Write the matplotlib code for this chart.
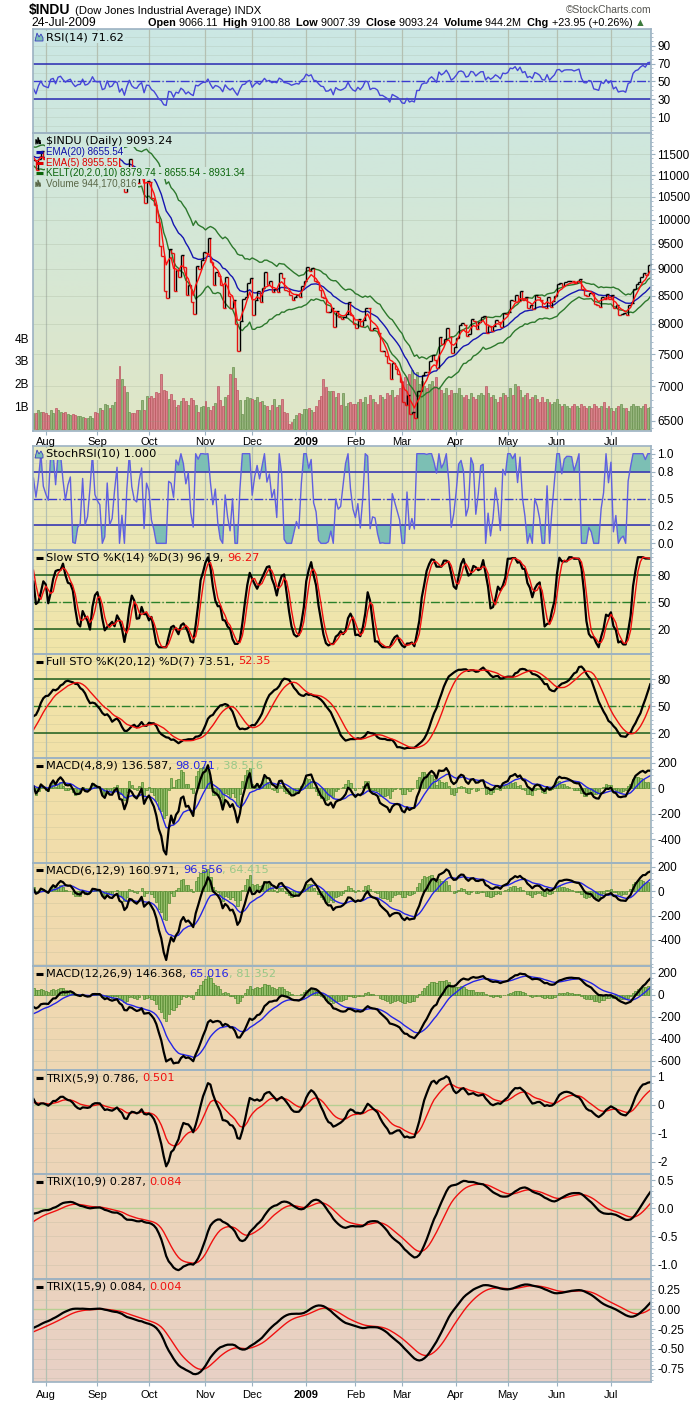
import numpy as np
import pandas as pd
import matplotlib
matplotlib.use("Agg")
import matplotlib.pyplot as plt
from matplotlib.colors import to_rgb
from matplotlib.ticker import FixedLocator, NullFormatter, MultipleLocator

plt.rcParams['font.family'] = ['DejaVu Sans']
plt.rcParams['axes.unicode_minus'] = False

# $INDU daily closes (June / July 2008 only feed the indicator warm-up)
close_2008_06 = [12503, 12391, 12404, 12604, 12210, 12280, 12289, 12084, 12141, 12307, 12269,
                 12160, 12029, 12063, 11843, 11842, 11807, 11811, 11453, 11347, 11350]
close_2008_07 = [11382, 11215, 11288, 11231, 11385, 11147, 11229, 11100, 11055, 10963, 11239,
                 11446, 11496, 11467, 11602, 11632, 11350, 11371, 11132, 11397, 11584, 11378]
close_2008_08 = [11326, 11284, 11616, 11656, 11432, 11734, 11782, 11643, 11533, 11616, 11660,
                 11479, 11349, 11417, 11431, 11628, 11387, 11413, 11502, 11715, 11544]
close_2008_09 = [11517, 11533, 11188, 11220, 11511, 11231, 11268, 11434, 11422, 10918, 11059,
                 10610, 11020, 11388, 11016, 10855, 10825, 11023, 11143, 10365, 10851]
close_2008_10 = [10831, 10483, 10325, 9955, 9447, 9258, 8579, 8451, 9388, 9311, 8578, 8979,
                 8852, 9266, 9034, 8519, 8691, 8379, 8176, 9065, 8991, 9181, 9325]
close_2008_11 = [9319, 9625, 9139, 8696, 8943, 8871, 8694, 8283, 8836, 8497, 8273, 8425,
                 7997, 7552, 8046, 8443, 8479, 8727, 8829]
close_2008_12 = [8149, 8419, 8591, 8376, 8635, 8934, 8691, 8761, 8565, 8629, 8564, 8924,
                 8824, 8604, 8579, 8519, 8419, 8468, 8515, 8483, 8668, 8776]
close_2009_01 = [9034, 8952, 9015, 8769, 8742, 8599, 8474, 8448, 8201, 8212, 8281, 7950,
                 8229, 8123, 8078, 8117, 8175, 8376, 8150, 8001]
close_2009_02 = [7936, 8078, 7957, 8063, 8281, 8270, 7889, 7939, 7933, 7850, 7553, 7556,
                 7466, 7366, 7115, 7351, 7270, 7182, 7063]
close_2009_03 = [6763, 6726, 6876, 6594, 6627, 6547, 6926, 6930, 7170, 7224, 7217, 7396,
                 7487, 7400, 7279, 7776, 7660, 7750, 7925, 7776, 7522, 7609]
close_2009_04 = [7762, 7978, 8018, 7975, 7789, 7837, 8083, 8058, 7920, 8029, 8126, 8131,
                 7842, 7969, 7887, 7957, 8076, 8025, 7945, 8185, 8168]
close_2009_05 = [8212, 8427, 8410, 8512, 8409, 8575, 8418, 8469, 8285, 8331, 8268, 8504,
                 8475, 8423, 8293, 8277, 8473, 8300, 8404, 8500]
close_2009_06 = [8721, 8740, 8675, 8750, 8764, 8764, 8763, 8740, 8770, 8799, 8613, 8504,
                 8497, 8555, 8539, 8340, 8323, 8299, 8472, 8439, 8529, 8447]
close_2009_07 = [8504, 8280, 8324, 8163, 8178, 8184, 8147, 8332, 8360, 8616, 8711, 8743,
                 8848, 8916, 8882, 9070, 9093.24]
holidays = ["2008-07-04", "2008-09-01", "2008-11-27", "2008-12-25", "2009-01-01",
            "2009-01-19", "2009-02-16", "2009-04-10", "2009-05-25", "2009-07-03"]
first_shown = "2008-07-25"

# volume in billions, one value per shown day (25-Jul-2008 .. 24-Jul-2009)
volume_bn = [0.70,
    0.69, 0.81, 0.76, 0.76, 0.69, 0.62, 0.81, 0.68, 0.93, 0.81,
    0.75, 0.68, 0.72, 0.66, 0.62, 0.63, 0.62, 0.56, 0.56, 0.54,
    0.48, 0.48, 0.56, 0.48, 0.72, 0.69, 0.90, 0.81, 1.09, 1.04,
    0.93, 1.07, 1.18, 2.19, 2.77, 2.19, 1.89, 1.63, 0.72, 0.69,
    0.69, 0.85, 0.85, 1.25, 0.85, 1.43, 1.37, 1.43, 1.37, 1.63,
    1.59, 2.40, 1.72, 1.69, 1.31, 1.52, 1.28, 0.97, 1.07, 1.21,
    1.37, 1.21, 1.04, 1.37, 1.27, 1.07, 0.72, 0.97, 1.01, 1.21,
    0.97, 0.81, 1.01, 1.15, 1.89, 1.25, 0.99, 1.40, 1.50, 2.40,
    2.73, 2.25, 1.72, 1.27, 0.66, 1.28, 1.40, 1.37, 1.31, 1.28,
    1.40, 1.18, 1.22, 1.04, 1.01, 0.81, 1.04, 1.31, 0.97, 1.04,
    1.31, 0.75, 0.68, 0.20, 0.29, 0.45, 0.60, 0.69, 0.66, 0.87,
    0.87, 0.93, 0.81, 0.72, 0.99, 1.25, 1.46, 2.19, 1.86, 1.66,
    1.66, 1.66, 1.41, 1.59, 1.07, 1.59, 0.99, 1.16,
    1.2, 1.1,
    1.1, 1.2, 1.3, 1.2, 1.4, 1.1, 1.5, 1.3, 1.2, 1.1, 1.5, 1.4, 1.3, 1.6, 1.5, 1.7, 1.4, 1.5, 1.8,
    2.1, 2.3, 2.0, 2.4, 2.6, 2.2, 2.5, 2.0, 2.1, 1.9, 1.8, 2.0, 2.1, 1.9, 2.3, 1.8, 1.7, 1.6,
    1.8, 1.5, 1.7, 1.6,
    1.6, 1.8, 1.5, 1.4, 1.5, 1.3, 1.6, 1.4, 1.3, 1.5, 1.6, 1.5, 1.9, 1.6, 1.4, 1.5, 1.3, 1.2,
    1.4, 1.6, 1.5,
    1.4, 1.8, 1.5, 2.0, 1.9, 1.7, 1.4, 1.5, 1.6, 1.3, 1.4, 1.5, 1.3, 1.2, 1.4, 1.2, 1.3, 1.2,
    1.1, 1.2,
    1.3, 1.1, 1.0, 1.1, 1.0, 0.9, 1.0, 1.1, 1.0, 0.9, 1.1, 1.0, 0.9, 1.0, 0.9, 1.1, 1.0, 0.9,
    1.0, 1.2, 0.9, 1.0,
    0.9, 0.8, 0.9, 1.0, 1.1, 0.9, 0.9, 0.8, 1.0, 1.1, 1.0, 1.0, 0.9, 1.0, 1.1, 0.9, 0.94]

month_labels = ["Aug", "Sep", "Oct", "Nov", "Dec", "2009", "Feb", "Mar", "Apr", "May", "Jun", "Jul"]

# texts as printed on the chart
title_sym = "$INDU"
title_name = "(Dow Jones Industrial Average) INDX"
quote_date = "24-Jul-2009"
quote_fields = [("Open", "9066.11"), ("High", "9100.88"), ("Low", "9007.39"),
                ("Close", "9093.24"), ("Volume", "944.2M"), ("Chg", "+23.95 (+0.26%)")]
price_legend = [("$INDU (Daily) 9093.24", "black"), ("EMA(20) 8655.54", "#1010a8"),
                ("EMA(5) 8955.55", "#e00000"),
                ("KELT(20,2.0,10) 8379.74 - 8655.54 - 8931.34", "#0a640a"),
                ("Volume 944,170,816", "#5a6848")]
rsi_label = "RSI(14) 71.62"
srsi_label = "StochRSI(10) 1.000"
slow_label = ("Slow STO %K(14) %D(3) 96.19, ", "96.27")
full_label = ("Full STO %K(20,12) %D(7) 73.51, ", "52.35")
macd_labels = [("MACD(4,8,9) 136.587, ", "98.071", ", 38.516"),
               ("MACD(6,12,9) 160.971, ", "96.556", ", 64.415"),
               ("MACD(12,26,9) 146.368, ", "65.016", ", 81.352")]
trix_labels = [("TRIX(5,9) 0.786, ", "0.501"), ("TRIX(10,9) 0.287, ", "0.084"),
               ("TRIX(15,9) 0.084, ", "0.004")]

# ---------------- indicators ----------------
closes = np.array(close_2008_06 + close_2008_07 + close_2008_08 + close_2008_09 + close_2008_10
                  + close_2008_11 + close_2008_12 + close_2009_01 + close_2009_02 + close_2009_03
                  + close_2009_04 + close_2009_05 + close_2009_06 + close_2009_07, dtype=float)
dates = pd.bdate_range("2008-06-02", "2009-07-24")
dates = dates[~dates.isin(pd.to_datetime(holidays))]
c = pd.Series(closes, index=dates)


def ema(s, n):
    return s.ewm(span=n, adjust=False).mean()


d = c.diff()
rsi = 100 - 100 / (1 + d.clip(lower=0).ewm(alpha=1 / 14, adjust=False).mean()
                   / (-d.clip(upper=0)).ewm(alpha=1 / 14, adjust=False).mean())
srsi = (rsi - rsi.rolling(10).min()) / (rsi.rolling(10).max() - rsi.rolling(10).min())


def fast_k(n):
    lo, hi = c.rolling(n).min(), c.rolling(n).max()
    return 100 * (c - lo) / (hi - lo)


slow_k = fast_k(14).rolling(3).mean()
slow_d = slow_k.rolling(3).mean()
full_k = fast_k(20).rolling(12).mean()
full_d = full_k.rolling(7).mean()

ema20, ema5 = ema(c, 20), ema(c, 5)
atr = d.abs().ewm(alpha=1 / 10, adjust=False).mean()
kelt_up, kelt_lo = ema20 + 2 * atr, ema20 - 2 * atr

macds = []
for f, s in [(4, 8), (6, 12), (12, 26)]:
    m = ema(c, f) - ema(c, s)
    sg = ema(m, 9)
    macds.append((m, sg, m - sg))

trixs = []
for n in [5, 10, 15]:
    t = ema(ema(ema(c, n), n), n).pct_change() * 100
    trixs.append((t, ema(t, 9)))

vis = dates >= pd.Timestamp(first_shown)
vd = dates[vis]
x = np.arange(len(vd))
cv = c[vis].values
prev = c.shift(1)[vis].values
up = cv >= prev
vol = np.array(volume_bn)
month_idx = [i for i in range(1, len(vd)) if vd[i].month != vd[i - 1].month]

# ---------------- layout ----------------
W, H = 700, 1403
X0, X1 = 33, 651
fig = plt.figure(figsize=(W / 100, H / 100), dpi=100)

bg_px = [29, 133, 300, 431, 446, 550, 654, 760, 866, 970, 1070, 1175, 1280, 1382]
bg_col = ["#cbe7e4", "#cfe7de", "#d8e7d2", "#e0e6c6", "#e6e8c0", "#ece7b4", "#f1e5a8",
          "#f2e1a8", "#f1ddac", "#f0d9b0", "#eed7b4", "#edd5b9", "#ebd3be", "#e8d0c6"]
bg_rgb = np.array([to_rgb(h) for h in bg_col])


def bg_at(py):
    return tuple(np.interp(py, bg_px, bg_rgb[:, k]) for k in range(3))


def px_axes(top, bottom, z=1):
    return fig.add_axes([X0 / W, 1 - bottom / H, (X1 - X0) / W, (bottom - top) / H], zorder=z)


for top, bottom in [(29, 431), (446, 1382)]:
    bg = px_axes(top, bottom, z=0)
    ys = np.linspace(top, bottom, 300)
    bg.imshow(np.array([bg_at(y) for y in ys])[:, None, :], aspect="auto", extent=[0, 1, 0, 1])
    bg.axis("off")

SPINE = "#9cb2c2"
GRID = "#b4c0b2"
ARIAL = ["Liberation Sans", "DejaVu Sans"]
TICKFONT = dict(family=ARIAL, size=8.5)


def style(ax, ylim, ticks, labels, minor, hgrid):
    ax.set_facecolor("none")
    ax.set_xlim(-0.2, len(x) - 0.7)
    ax.set_ylim(*ylim)
    for sp in ax.spines.values():
        sp.set_color(SPINE)
        sp.set_linewidth(1.2)
    ax.yaxis.tick_right()
    ax.set_yticks(ticks)
    ax.set_yticklabels(labels, **TICKFONT)
    ax.yaxis.set_minor_locator(MultipleLocator(minor))
    ax.tick_params(axis="y", which="major", length=3, width=0.8, color=SPINE, pad=1.5)
    ax.tick_params(axis="y", which="minor", length=1.5, width=0.6, color=SPINE)
    ax.set_xticks(month_idx)
    ax.set_xticklabels([])
    ax.tick_params(axis="x", length=0)
    for m in month_idx:
        ax.axvline(m, color=GRID, lw=0.9, zorder=0.5)
    for h in np.arange(ylim[0] - ylim[0] % hgrid, ylim[1], hgrid):
        ax.axhline(h, color="#8c9a80", lw=0.7, alpha=0.16, zorder=0.4)


# RSI
ax = px_axes(29, 133)
style(ax, (-8, 109), [10, 30, 50, 70, 90], ["10", "30", "50", "70", "90"], 5, 10)
ax.axhline(70, color="#2a2ab4", lw=1.1)
ax.axhline(30, color="#2a2ab4", lw=1.1)
ax.axhline(50, color="#3a3ad0", lw=1, ls="-.")
ax.plot(x, rsi[vis].values, color="#4646d8", lw=1)

# price + volume
axv = px_axes(133, 431)
axv.set_facecolor("none")
axv.set_xlim(-0.2, len(x) - 0.7)
axv.set_ylim(-0.1, 13.08)
for sp in axv.spines.values():
    sp.set_visible(False)
axv.set_yticks([1, 2, 3, 4])
axv.set_yticklabels(["1B", "2B", "3B", "4B"], **TICKFONT)
axv.tick_params(axis="y", length=0, pad=3)
axv.set_xticks([])
for m in month_idx:
    axv.axvline(m, color=GRID, lw=0.9, zorder=0.5)
axv.bar(x[up], vol[up], width=0.8, color="#95b57c", edgecolor="#6b9250", lw=0.5)
axv.bar(x[~up], vol[~up], width=0.8, color="#d9818a", edgecolor="#bb5560", lw=0.5)

ax = px_axes(133, 431, z=2)
ax.set_facecolor("none")
ax.set_yscale("log")
ax.set_xlim(-0.2, len(x) - 0.7)
ax.set_ylim(6362, 12037)
for sp in ax.spines.values():
    sp.set_color(SPINE)
    sp.set_linewidth(1.2)
ax.yaxis.tick_right()
pt = list(range(6500, 12000, 500))
ax.yaxis.set_major_locator(FixedLocator(pt))
ax.set_yticklabels([str(p) for p in pt], **TICKFONT)
ax.yaxis.set_minor_locator(FixedLocator(list(range(6400, 12100, 100))))
ax.yaxis.set_minor_formatter(NullFormatter())
ax.tick_params(axis="y", which="major", length=3, width=0.8, color=SPINE, pad=1.5)
ax.tick_params(axis="y", which="minor", length=1.5, width=0.6, color=SPINE)
for p in pt:
    ax.axhline(p, color="#8c9a80", lw=0.7, alpha=0.2, zorder=0.4)
ax.set_xticks(month_idx)
ax.set_xticklabels(month_labels, family=ARIAL, size=8)
ax.tick_params(axis="x", length=3, color=SPINE, pad=1.5)
ax.get_xticklabels()[5].set_fontweight("bold")
ax.plot(x, kelt_up[vis].values, color="#2c782c", lw=1)
ax.plot(x, kelt_lo[vis].values, color="#2c782c", lw=1)
ax.plot(x, ema20[vis].values, color="#1515b0", lw=1)
ax.vlines(x[up], np.minimum(prev, cv)[up], np.maximum(prev, cv)[up], color="black", lw=1)
ax.vlines(x[~up], np.minimum(prev, cv)[~up], np.maximum(prev, cv)[~up], color="#e41010", lw=1)
ax.plot(x[up], cv[up], ls="none", marker=1, ms=2, color="black")
ax.plot(x[~up], cv[~up], ls="none", marker=1, ms=2, color="#e41010")
ax.plot(x, ema5[vis].values, color="#ff1010", lw=1)

# StochRSI
ax = px_axes(446, 550)
style(ax, (-0.074, 1.086), [0, 0.2, 0.5, 0.8, 1.0], ["0.0", "0.2", "0.5", "0.8", "1.0"], 0.05, 0.1)
sr = srsi[vis].values
ax.fill_between(x, 0.8, sr, where=sr > 0.8, interpolate=True, color="#7cbfb4", lw=0)
ax.fill_between(x, 0.2, sr, where=sr < 0.2, interpolate=True, color="#7cbfb4", lw=0)
ax.axhline(0.8, color="#2a2ab4", lw=1.1)
ax.axhline(0.2, color="#2a2ab4", lw=1.1)
ax.axhline(0.5, color="#3a3ad0", lw=1, ls="-.")
ax.plot(x, sr, color="#6060e0", lw=1)

# Slow / Full stochastics
for (top, bottom, ylim, kk, dd) in [(550, 654.3, (-7.8, 108), slow_k, slow_d),
                                    (654.3, 758.3, (-7.6, 107.3), full_k, full_d)]:
    ax = px_axes(top, bottom)
    style(ax, ylim, [20, 50, 80], ["20", "50", "80"], 5, 10)
    ax.axhline(80, color="#1d5e1d", lw=1.1)
    ax.axhline(20, color="#1d5e1d", lw=1.1)
    ax.axhline(50, color="#2a802a", lw=1, ls="-.")
    ax.plot(x, kk[vis].values, color="black", lw=1.6)
    ax.plot(x, dd[vis].values, color="#f01010", lw=1)

# MACD panels
macd_pan = [(758.3, 862.7, (-583, 234), [-400, -200, 0, 200]),
            (862.7, 966.3, (-616, 233), [-400, -200, 0, 200]),
            (966.3, 1070.3, (-687, 258), [-600, -400, -200, 0, 200])]
for (top, bottom, ylim, tk), (m, sg, hs) in zip(macd_pan, macds):
    ax = px_axes(top, bottom)
    style(ax, ylim, tk, [str(t) for t in tk], 50, 100)
    ax.bar(x, hs[vis].values, width=0.9, color="#93bd68", edgecolor="#4f8a2c", lw=0.5)
    ax.plot(x, sg[vis].values, color="#2424e6", lw=1)
    ax.plot(x, m[vis].values, color="black", lw=1.6)

# TRIX panels
trix_pan = [(1070.3, 1174, (-2.43, 1.21), [-2, -1, 0, 1], ["-2", "-1", "0", "1"], 0.25, 0.5),
            (1174, 1278.7, (-1.25, 0.61), [-1, -0.5, 0, 0.5], ["-1.0", "-0.5", "0.0", "0.5"], 0.1, 0.25),
            (1278.7, 1382, (-0.92, 0.39), [-0.75, -0.5, -0.25, 0, 0.25],
             ["-0.75", "-0.50", "-0.25", "0.00", "0.25"], 0.05, 0.125)]
for (top, bottom, ylim, tk, tl, mn, hg), (t, sg) in zip(trix_pan, trixs):
    ax = px_axes(top, bottom)
    style(ax, ylim, tk, tl, mn, hg)
    ax.axhline(0, color="#b6cf92", lw=1)
    ax.plot(x, sg[vis].values, color="#f01010", lw=1)
    ax.plot(x, t[vis].values, color="black", lw=1.6)
ax.set_xticklabels(month_labels, family=ARIAL, size=8)
ax.tick_params(axis="x", length=3, color=SPINE, pad=2.5)
ax.get_xticklabels()[5].set_fontweight("bold")

# ---------------- texts ----------------
ov = fig.add_axes([0, 0, 1, 1], zorder=20)
ov.set_xlim(0, W)
ov.set_ylim(H, 0)
ov.axis("off")
LAB = ["DejaVu Sans"]


def chain(x0, y0, parts, size=8.2, family=LAB, bg=None):
    prv = None
    for txt, col, wt in parts:
        kw = dict(color=col, fontsize=size, fontweight=wt, family=family, ha="left", va="center")
        if bg is not None:
            kw["bbox"] = dict(boxstyle="square,pad=0.12", fc=bg, ec="none")
        if prv is None:
            prv = ov.text(x0, y0, txt, **kw)
        else:
            prv = ov.annotate(txt, xy=(1, 0.5), xycoords=prv, **kw)
    return prv


ov.text(29, 10, title_sym, ha="left", va="center", fontsize=10, fontweight="bold", family=ARIAL)
ov.text(75, 10.5, title_name, ha="left", va="center", fontsize=8.1, family=ARIAL)
ov.text(651, 10, "\u00a9StockCharts.com", ha="right", va="center", fontsize=7.4, family=ARIAL,
        color="#555550")
ov.text(31, 23, quote_date, ha="left", va="center", fontsize=8.8, family=ARIAL)
parts = []
for k, v in quote_fields:
    parts += [(k + " ", "black", "bold"), (v + "  ", "black", "normal")]
parts[-1] = (quote_fields[-1][1], "black", "normal")
parts.append((" \u25b2", "#3c7a3c", "normal"))
chain(148, 23, parts, size=7.8, family=ARIAL)


def icon_line(y, col):
    ov.plot([35.5, 43], [y, y], color=col, lw=2.2, solid_capstyle="butt")


def icon_mount(y):
    ov.fill([35, 37, 39, 41, 43, 43, 35], [y + 4, y - 4, y, y - 3, y + 1, y + 4, y + 4],
            color="#7cbfb4", ec="#3a3ac0", lw=0.6)


icon_mount(37)
chain(46, 37, [(rsi_label, "black", "normal")], bg=bg_at(37))
legend_y = [140.7, 151.7, 162.7, 173.3, 183.3]
legend_size = [8.1, 7.1, 7.1, 7.1, 7.1]
legend_font = [LAB, ARIAL, ARIAL, ARIAL, ARIAL]
for i, (txt, col) in enumerate(price_legend):
    yy = legend_y[i]
    if i == 0 or i == 4:
        ov.plot([36, 36, 38, 38, 40, 40], [yy + 3, yy - 1, yy + 3, yy - 3, yy + 3, yy], color=col, lw=1)
    else:
        icon_line(yy, col)
    chain(46, yy, [(txt, col, "normal")], size=legend_size[i], family=legend_font[i], bg=bg_at(yy))
icon_mount(454)
chain(46, 454, [(srsi_label, "black", "normal")], bg=bg_at(454))
for yy, (a, b) in [(558, slow_label), (661.5, full_label)]:
    icon_line(yy, "black")
    chain(46, yy, [(a, "black", "normal"), (b, "#f01010", "normal")])
for (top, _, _, _), (a, b, cc) in zip(macd_pan, macd_labels):
    yy = top + 7.5
    icon_line(yy, "black")
    chain(46, yy, [(a, "black", "normal"), (b, "#2424e6", "normal"), (cc, "#98c888", "normal")])
for (top, *_), (a, b) in zip(trix_pan, trix_labels):
    yy = top + 8
    icon_line(yy, "black")
    chain(46, yy, [(a, "black", "normal"), (b, "#f01010", "normal")])

fig.savefig("out.png", dpi=100)
